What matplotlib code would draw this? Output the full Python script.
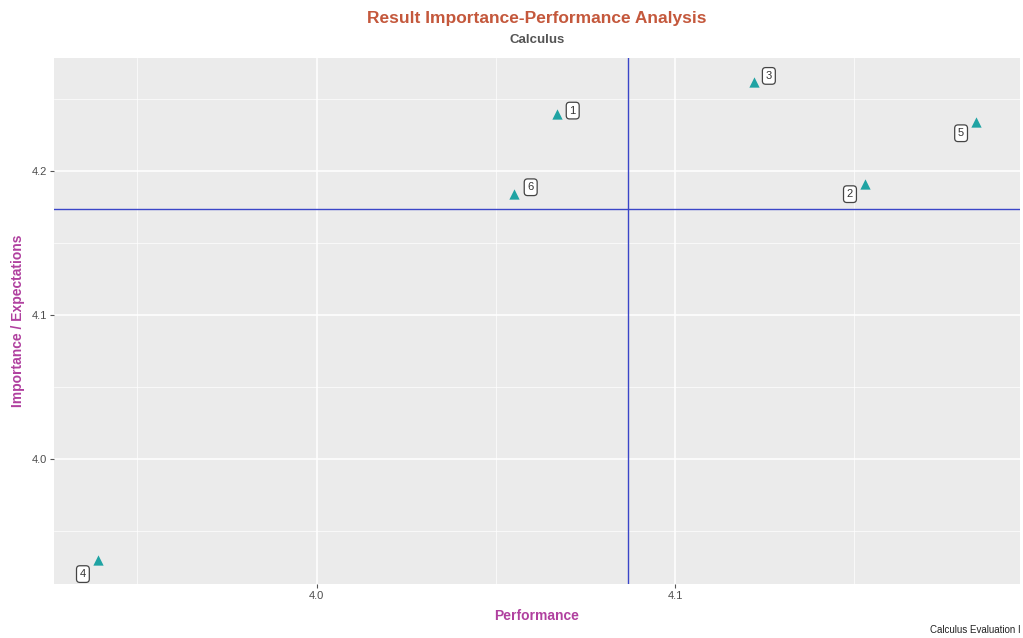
import matplotlib
matplotlib.use("Agg")
import matplotlib.pyplot as plt
from matplotlib.ticker import MultipleLocator

plt.rcParams['font.family'] = ['Liberation Sans', 'DejaVu Sans']

# items of the evaluation (label, performance, importance)
labels = ['1', '2', '3', '4', '5', '6']
performance = [4.067, 4.153, 4.122, 3.939, 4.184, 4.055]
importance = [4.240, 4.191, 4.262, 3.930, 4.234, 4.184]

# quadrant lines (means)
perf_mean = 4.087
imp_mean = 4.1735

# label offsets in pixels (repel style)
offsets = [(16, 3), (-15, -10), (15, 6), (-15, -14), (-15, -11), (17, 7)]

fig = plt.figure(figsize=(10.23, 6.38), dpi=100)
ax = fig.add_axes([54/1023, 1 - 584/638, (1020 - 54)/1023, (584 - 58)/638])

ax.set_facecolor('#EBEBEB')
for s in ax.spines.values():
    s.set_visible(False)

ax.xaxis.set_major_locator(MultipleLocator(0.1))
ax.xaxis.set_minor_locator(MultipleLocator(0.05))
ax.yaxis.set_major_locator(MultipleLocator(0.1))
ax.yaxis.set_minor_locator(MultipleLocator(0.05))
ax.grid(which='major', color='white', linewidth=1.1)
ax.grid(which='minor', color='white', linewidth=0.5)
ax.set_axisbelow(True)
ax.tick_params(which='major', length=3, color='#555555', labelsize=8,
               labelcolor='#4d4d4d', pad=2)
ax.tick_params(which='minor', length=0)

ax.axvline(perf_mean, color='#3a45c8', linewidth=1.0)
ax.axhline(imp_mean, color='#3a45c8', linewidth=1.0)

ax.scatter(performance, importance, marker='^', s=55, color='#1fa3a3', zorder=3,
           linewidths=0)
ax.margins(x=0.05, y=0.05)

px = 72 / 100
for lab, x, y, (dx, dy) in zip(labels, performance, importance, offsets):
    ax.annotate(lab, (x, y), xytext=(dx * px, dy * px), textcoords='offset points',
                ha='center', va='center', fontsize=8, color='#333333',
                bbox=dict(boxstyle='round,pad=0.3', fc='white', ec='#444444', lw=0.9),
                zorder=4)

ax.set_xlabel('Performance', fontsize=10, fontweight='bold', color='#b0409f', labelpad=6)
ax.set_ylabel('Importance / Expectations', fontsize=10, fontweight='bold',
              color='#b0409f', labelpad=5)

cx = ax.get_position().x0 + ax.get_position().width / 2
fig.text(cx, 1 - 18/638, 'Result Importance-Performance Analysis', ha='center',
         va='center', fontsize=12.5, fontweight='bold', color='#c4583c')
fig.text(cx, 1 - 40/638, 'Calculus', ha='center', va='center', fontsize=9.5,
         fontweight='bold', color='#555555')
fig.text(1 - 2/1023, 1 - 630/638, 'Calculus Evaluation I', ha='right', va='center',
         fontsize=7, color='#222222')

fig.savefig('out.png', dpi=100)
